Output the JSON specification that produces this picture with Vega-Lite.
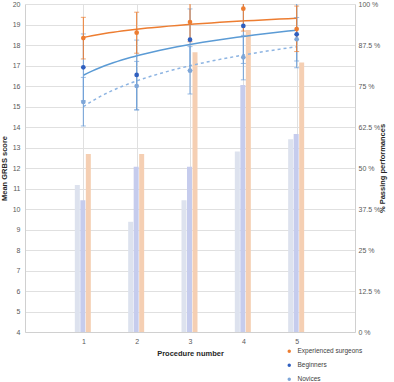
{
  "$schema": "https://vega.github.io/schema/vega-lite/v6.json",
  "width": 330,
  "height": 328,
  "autosize": {"type": "none"},
  "padding": {"left": 25, "top": 4, "right": 39, "bottom": 50},
  "config": {
    "view": {"stroke": null},
    "font": "Liberation Sans",
    "axis": {"labelFont": "Liberation Sans", "titleFont": "Liberation Sans", "labelColor": "#595959", "titleColor": "#262626", "labelFontSize": 7, "titleFontSize": 7.5, "titleFontWeight": "bold", "ticks": false, "domainColor": "#d0d0d0", "gridColor": "#e0e0e0"}
  },
  "datasets": {
    "scores": [
      {"procedure": 1, "group": "Experienced surgeons", "mean": 18.34, "lo": 17.32, "hi": 19.35},
      {"procedure": 2, "group": "Experienced surgeons", "mean": 18.6, "lo": 17.6, "hi": 19.6},
      {"procedure": 3, "group": "Experienced surgeons", "mean": 19.12, "lo": 18.16, "hi": 20.08},
      {"procedure": 4, "group": "Experienced surgeons", "mean": 19.77, "lo": 18.68, "hi": 20.86},
      {"procedure": 5, "group": "Experienced surgeons", "mean": 18.78, "lo": 17.68, "hi": 19.9},
      {"procedure": 1, "group": "Beginners", "mean": 16.91, "lo": 15.28, "hi": 18.54},
      {"procedure": 2, "group": "Beginners", "mean": 16.54, "lo": 14.84, "hi": 18.24},
      {"procedure": 3, "group": "Beginners", "mean": 18.26, "lo": 16.76, "hi": 19.76},
      {"procedure": 4, "group": "Beginners", "mean": 18.93, "lo": 17.1, "hi": 20.76},
      {"procedure": 5, "group": "Beginners", "mean": 18.52, "lo": 16.89, "hi": 20.15},
      {"procedure": 1, "group": "Novices", "mean": 15.22, "lo": 14.05, "hi": 16.42},
      {"procedure": 2, "group": "Novices", "mean": 16.0, "lo": 14.83, "hi": 17.2},
      {"procedure": 3, "group": "Novices", "mean": 16.75, "lo": 15.61, "hi": 17.92},
      {"procedure": 4, "group": "Novices", "mean": 17.4, "lo": 16.3, "hi": 18.47},
      {"procedure": 5, "group": "Novices", "mean": 18.28, "lo": 17.22, "hi": 19.34}
    ],
    "passing": [
      {"procedure": 1, "group": "Novices", "pct": 44.8},
      {"procedure": 2, "group": "Novices", "pct": 33.6},
      {"procedure": 3, "group": "Novices", "pct": 40.2},
      {"procedure": 4, "group": "Novices", "pct": 55.0},
      {"procedure": 5, "group": "Novices", "pct": 58.75},
      {"procedure": 1, "group": "Beginners", "pct": 40.2},
      {"procedure": 2, "group": "Beginners", "pct": 50.4},
      {"procedure": 3, "group": "Beginners", "pct": 50.4},
      {"procedure": 4, "group": "Beginners", "pct": 75.3},
      {"procedure": 5, "group": "Beginners", "pct": 60.4},
      {"procedure": 1, "group": "Experienced surgeons", "pct": 54.3},
      {"procedure": 2, "group": "Experienced surgeons", "pct": 54.3},
      {"procedure": 3, "group": "Experienced surgeons", "pct": 85.3},
      {"procedure": 4, "group": "Experienced surgeons", "pct": 92.1},
      {"procedure": 5, "group": "Experienced surgeons", "pct": 82.2}
    ]
  },
  "encoding": {
    "x": {"field": "procedure", "type": "quantitative", "scale": {"domain": [0, 6], "nice": false, "zero": false},
      "axis": {"values": [1, 2, 3, 4, 5], "grid": true, "title": "Procedure number", "labelPadding": 5, "titlePadding": 5}}
  },
  "layer": [
    {
      "data": {"name": "passing"},
      "encoding": {
        "y": {"field": "pct", "type": "quantitative", "scale": {"domain": [0, 100], "nice": false},
          "axis": {"orient": "right", "values": [0, 12.5, 25, 37.5, 50, 62.5, 75, 87.5, 100], "labelExpr": "datum.value + ' %'", "grid": false, "title": "% Passing performances", "titleAngle": 270, "labelPadding": 3, "titlePadding": 7}}
      },
      "layer": [
        {"transform": [{"filter": "datum.group === 'Novices'"}], "mark": {"type": "bar", "size": 5, "xOffset": -6, "color": "#dde2ee"}},
        {"transform": [{"filter": "datum.group === 'Beginners'"}], "mark": {"type": "bar", "size": 5, "xOffset": -0.5, "color": "#c6cced"}},
        {"transform": [{"filter": "datum.group === 'Experienced surgeons'"}], "mark": {"type": "bar", "size": 5, "xOffset": 5, "color": "#f5cfb3"}}
      ]
    },
    {
      "data": {"name": "scores"},
      "encoding": {
        "y": {"field": "mean", "type": "quantitative", "scale": {"domain": [4, 20], "nice": false, "zero": false},
          "axis": {"values": [4,5,6,7,8,9,10,11,12,13,14,15,16,17,18,19,20], "grid": true, "title": "Mean GRBS score", "labelPadding": 5, "titlePadding": 4}}
      },
      "layer": [
        {"transform": [{"filter": "datum.group === 'Experienced surgeons'"}, {"regression": "mean", "on": "procedure", "method": "log", "extent": [1, 5]}],
          "mark": {"type": "line", "color": "#ed7d31", "strokeWidth": 1.5}},
        {"transform": [{"filter": "datum.group === 'Beginners'"}, {"regression": "mean", "on": "procedure", "method": "log", "extent": [1, 5]}],
          "mark": {"type": "line", "color": "#5b9bd5", "strokeWidth": 1.5}},
        {"transform": [{"filter": "datum.group === 'Novices'"}, {"regression": "mean", "on": "procedure", "method": "log", "extent": [1, 5]}],
          "mark": {"type": "line", "color": "#8db4e2", "strokeWidth": 1.5, "strokeDash": [3, 3]}},
        {"transform": [{"filter": "datum.group !== 'Experienced surgeons'"}], "mark": {"type": "rule", "color": "#6fa0d8", "clip": true},
          "encoding": {"y": {"field": "lo", "type": "quantitative"}, "y2": {"field": "hi"}}},
        {"transform": [{"filter": "datum.group !== 'Experienced surgeons'"}], "mark": {"type": "tick", "orient": "horizontal", "size": 5, "thickness": 1, "color": "#6fa0d8", "clip": true},
          "encoding": {"y": {"field": "lo", "type": "quantitative"}}},
        {"transform": [{"filter": "datum.group !== 'Experienced surgeons'"}], "mark": {"type": "tick", "orient": "horizontal", "size": 5, "thickness": 1, "color": "#6fa0d8", "clip": true},
          "encoding": {"y": {"field": "hi", "type": "quantitative"}}},
        {"transform": [{"filter": "datum.group === 'Experienced surgeons'"}], "mark": {"type": "rule", "color": "#ed7d31", "clip": true},
          "encoding": {"y": {"field": "lo", "type": "quantitative"}, "y2": {"field": "hi"}}},
        {"transform": [{"filter": "datum.group === 'Experienced surgeons'"}], "mark": {"type": "tick", "orient": "horizontal", "size": 5, "thickness": 1, "color": "#ed7d31", "clip": true},
          "encoding": {"y": {"field": "lo", "type": "quantitative"}}},
        {"transform": [{"filter": "datum.group === 'Experienced surgeons'"}], "mark": {"type": "tick", "orient": "horizontal", "size": 5, "thickness": 1, "color": "#ed7d31", "clip": true},
          "encoding": {"y": {"field": "hi", "type": "quantitative"}}},
        {"mark": {"type": "circle", "size": 22, "opacity": 1},
          "encoding": {
            "color": {"field": "group", "type": "nominal",
              "scale": {"domain": ["Experienced surgeons", "Beginners", "Novices"], "range": ["#ed7d31", "#2f5fbf", "#7ea6d8"]},
              "legend": {"title": null, "orient": "none", "legendX": 261, "legendY": 344, "labelFontSize": 6.5, "labelColor": "#404040", "labelFont": "Liberation Sans", "symbolSize": 12, "symbolType": "circle", "rowPadding": 7, "padding": 0, "labelOffset": 5}
            }
          }}
      ]
    }
  ],
  "resolve": {"scale": {"y": "independent"}}
}
